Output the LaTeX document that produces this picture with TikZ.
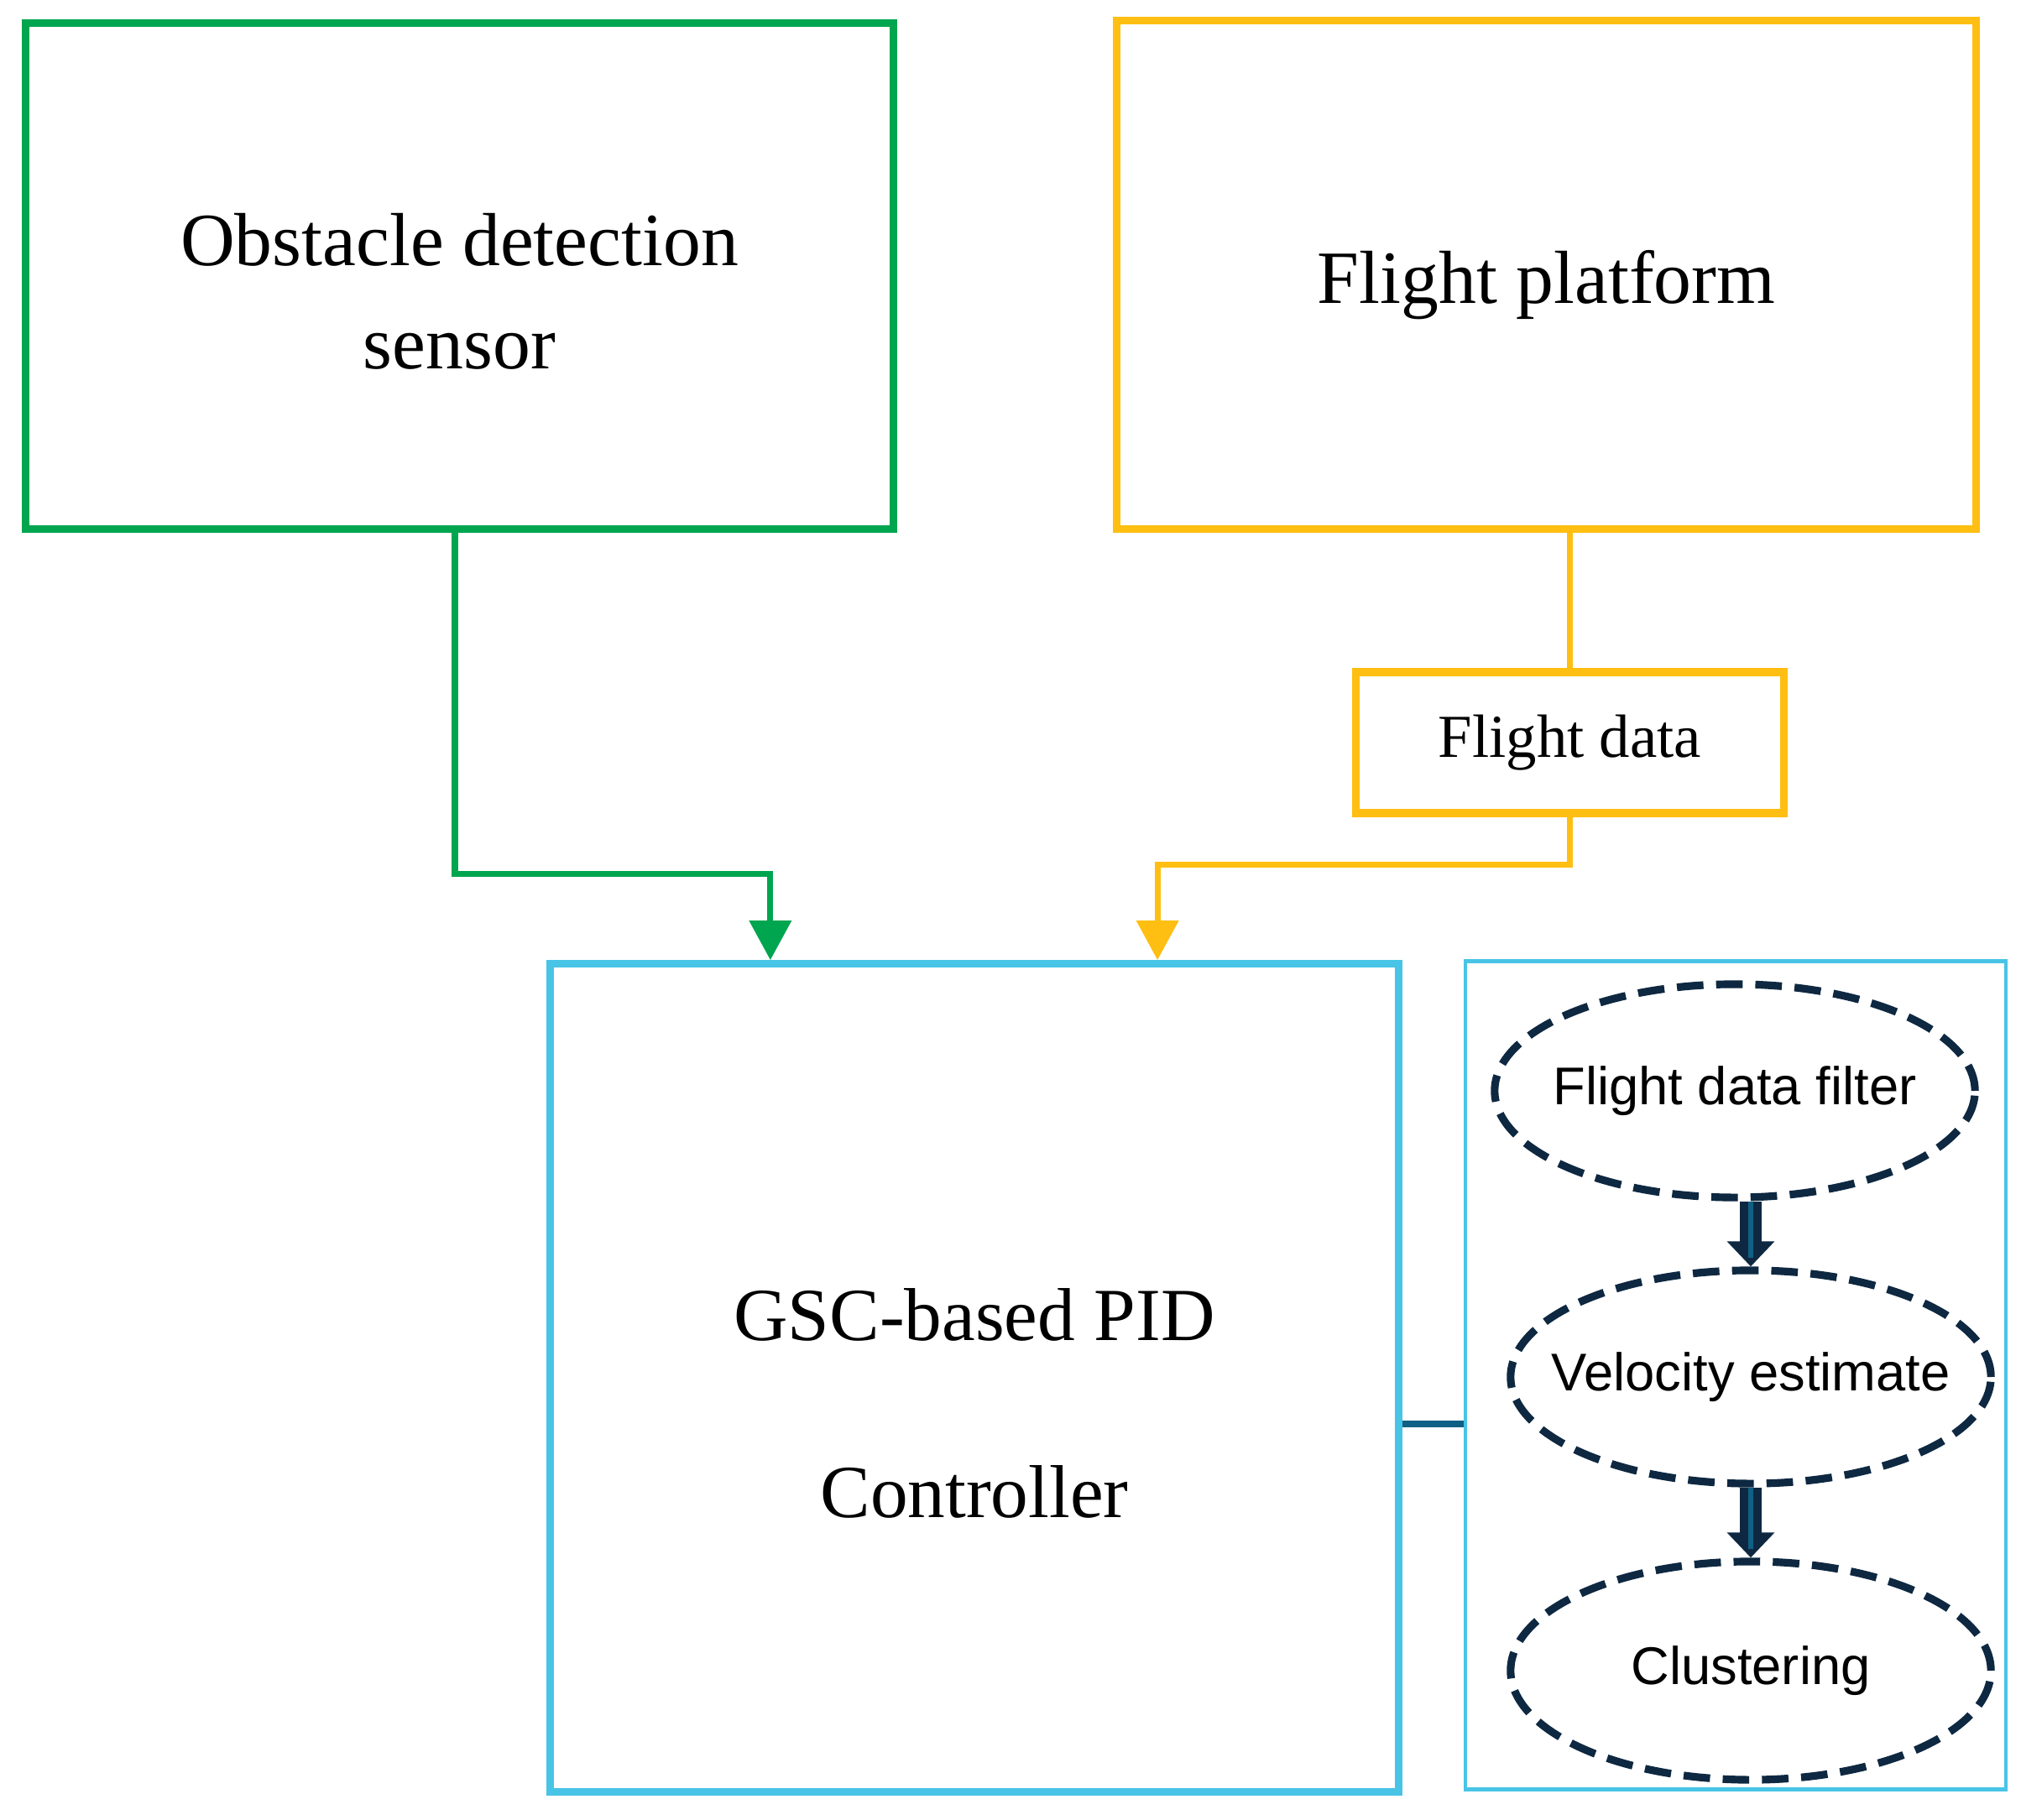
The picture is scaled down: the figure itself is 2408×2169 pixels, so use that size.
\documentclass[tikz,border=0pt]{standalone}
\usepackage{fontspec}
\setmainfont{Liberation Serif}
\newfontfamily\ellsans{Liberation Sans}
\usetikzlibrary{arrows.meta,shapes.geometric}

\definecolor{boxgreen}{HTML}{00A54F}
\definecolor{boxorange}{HTML}{FFBE12}
\definecolor{boxblue}{HTML}{48C4E6}
\definecolor{darknavy}{HTML}{0E2841}
\definecolor{linkteal}{HTML}{0F6085}

\begin{document}
\begin{tikzpicture}[x=0.01cm, y=-0.01cm, >={Triangle[length=0.47cm,width=0.49cm]},
    block/.style={draw, rectangle, line width=2.6pt, inner sep=0pt},
    stage/.style={draw=darknavy, ellipse, line width=2.6pt, dash pattern=on 9pt off 4.3pt,
        minimum width=5.72cm, minimum height=2.54cm, inner xsep=-0.8cm, inner ysep=0pt,
        font=\ellsans\fontsize{18}{22}\selectfont},
    feed/.style={line width=2pt, ->},
    stepdown/.style={line width=7.5pt, draw=darknavy, -{Triangle[length=0.3cm,width=0.55cm]},
        postaction={draw=linkteal, line width=1.5pt, -, shorten >=0.1cm}}]
    \useasboundingbox (0,0) rectangle (2408,2169);

    % top blocks
    \node[block, draw=boxgreen, minimum width=10.33cm, minimum height=6.02cm,
        label={[yshift=-0.18cm, align=center, font=\fontsize{25.5}{35}\selectfont]center:{Obstacle detection\\sensor}}]
        (obst) at (547.5,329) {};
    \node[block, draw=boxorange, minimum width=10.23cm, minimum height=6.05cm,
        label={[yshift=-0.12cm, font=\fontsize{25.5}{30}\selectfont]center:Flight platform}]
        (plat) at (1842.5,327.5) {};
    \node[block, draw=boxorange, minimum width=5.09cm, minimum height=1.68cm,
        font=\fontsize{20.7}{25}\selectfont] (fdata) at (1870.5,885) {Flight data};

    % controller and its parts
    \node[block, draw=boxblue, minimum width=10.10cm, minimum height=9.86cm,
        label={[yshift=-0.30cm, align=center, font=\fontsize{25.4}{60}\selectfont]center:{GSC-based PID\\Controller}}]
        (ctrl) at (1161,1642) {};
    \node[block, draw=boxblue, line width=1.3pt, minimum width=6.44cm, minimum height=9.86cm] (sub) at (2068,1639) {};

    \node[stage] (filt) at (2067,1300) {Flight data filter};
    \node[stage] (velo) at (2086,1641) {Velocity estimate};
    \node[stage, minimum height=2.6cm] (clus) at (2086,1991) {Clustering};

    % connections
    \draw[feed, boxgreen] ([xshift=-0.055cm]obst.south) -- ++(0,407) -| ([xshift=-2.43cm]ctrl.north);
    \draw[line width=2pt, boxorange] (plat.south -| fdata.north) -- (fdata.north);
    \draw[feed, boxorange] (fdata.south) -- ++(0,57) -| ([xshift=2.18cm]ctrl.north);
    \draw[line width=2.4pt, linkteal] ([yshift=-0.55cm]ctrl.east) -- ([yshift=-0.55cm]ctrl.east -| sub.west);

    \draw[stepdown] (velo.north |- filt.south) -- (velo.north);
    \draw[stepdown] (clus.north |- velo.south) -- (clus.north);
\end{tikzpicture}
\end{document}
